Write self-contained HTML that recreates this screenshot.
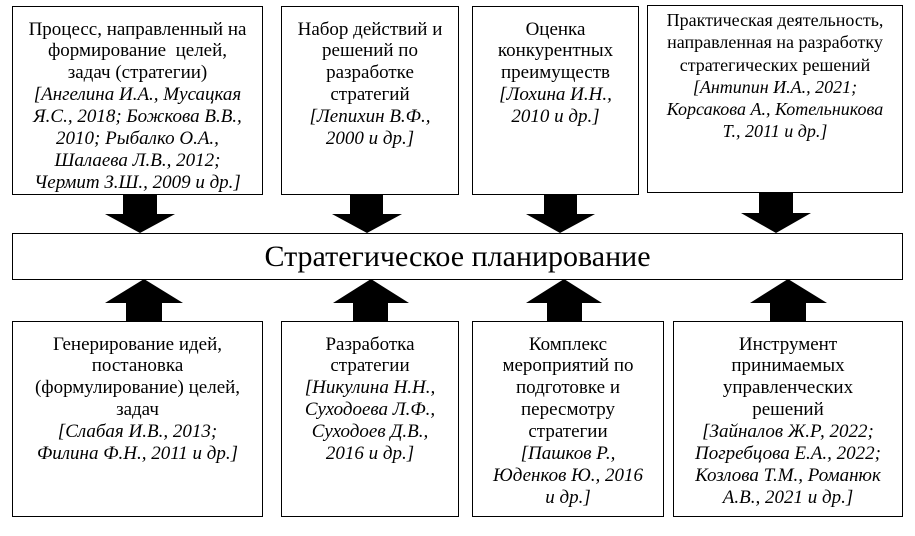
<!DOCTYPE html>
<html>
<head>
<meta charset="utf-8">
<style>
  html, body { margin:0; padding:0; background:#fff; }
  #c { position:relative; width:915px; height:536px; overflow:hidden; background:#fff;
       font-family:"Liberation Serif","Noto Serif CJK SC",serif; color:#000; }
  .b { position:absolute; box-sizing:border-box; border:1.5px solid #000; background:#fff;
       text-align:center; font-size:19px; line-height:21.9px; padding-top:11.5px; }
  .b div { white-space:nowrap; }
  .i { font-style:italic; }
  svg { position:absolute; left:0; top:0; }
</style>
</head>
<body>
<div id="c">
  <svg width="915" height="536" viewBox="0 0 915 536">
    <g fill="#000">
      <!-- top arrows (down) -->
      <polygon points="123,194 157,194 157,214 175,214 140,233 105,214 123,214"/>
      <polygon points="350,194 383,194 383,214 402,214 367,233 332,214 350,214"/>
      <polygon points="544,194 577,194 577,214 595,214 560,233 526,214 544,214"/>
      <polygon points="759,192 793,192 793,213 811,213 776,233 741,213 759,213"/>
      <!-- bottom arrows (up) -->
      <polygon points="126,322 162,322 162,303 183,303 144,279 105,303 126,303"/>
      <polygon points="353,322 388,322 388,303 409,303 371,279 333,303 353,303"/>
      <polygon points="547,322 582,322 582,303 602,303 564,279 526,303 547,303"/>
      <polygon points="770,322 806,322 806,303 827,303 788,279 750,303 770,303"/>
    </g>
  </svg>

  <div class="b" style="left:12px;top:6px;width:251px;height:189px;">
    <div>Процесс, направленный на</div>
    <div>формирование&nbsp; целей,</div>
    <div>задач (стратегии)</div>
    <div class="i">[Ангелина И.А., Мусацкая</div>
    <div class="i">Я.С., 2018; Божкова В.В.,</div>
    <div class="i">2010; Рыбалко О.А.,</div>
    <div class="i">Шалаева Л.В., 2012;</div>
    <div class="i">Чермит З.Ш., 2009 и др.]</div>
  </div>

  <div class="b" style="left:281px;top:6px;width:178px;height:189px;">
    <div>Набор действий и</div>
    <div>решений по</div>
    <div>разработке</div>
    <div>стратегий</div>
    <div class="i">[Лепихин В.Ф.,</div>
    <div class="i">2000 и др.]</div>
  </div>

  <div class="b" style="left:472px;top:6px;width:167px;height:189px;">
    <div>Оценка</div>
    <div>конкурентных</div>
    <div>преимуществ</div>
    <div class="i">[Лохина И.Н.,</div>
    <div class="i">2010 и др.]</div>
  </div>

  <div class="b" style="left:647px;top:5px;width:256px;height:188px;font-size:18px;line-height:22.3px;padding-top:3px;">
    <div>Практическая деятельность,</div>
    <div>направленная на разработку</div>
    <div>стратегических решений</div>
    <div class="i">[Антипин И.А., 2021;</div>
    <div class="i">Корсакова А., Котельникова</div>
    <div class="i">Т., 2011 и др.]</div>
  </div>

  <div class="b" style="left:12px;top:233px;width:891px;height:47px;font-size:30px;line-height:32px;padding-top:6.5px;">
    <div>Стратегическое планирование</div>
  </div>

  <div class="b" style="left:12px;top:321px;width:251px;height:196px;">
    <div>Генерирование идей,</div>
    <div>постановка</div>
    <div>(формулирование) целей,</div>
    <div>задач</div>
    <div class="i">[Слабая И.В., 2013;</div>
    <div class="i">Филина Ф.Н., 2011 и др.]</div>
  </div>

  <div class="b" style="left:281px;top:321px;width:178px;height:196px;">
    <div>Разработка</div>
    <div>стратегии</div>
    <div class="i">[Никулина Н.Н.,</div>
    <div class="i">Суходоева Л.Ф.,</div>
    <div class="i">Суходоев Д.В.,</div>
    <div class="i">2016 и др.]</div>
  </div>

  <div class="b" style="left:472px;top:321px;width:192px;height:196px;">
    <div>Комплекс</div>
    <div>мероприятий по</div>
    <div>подготовке и</div>
    <div>пересмотру</div>
    <div>стратегии</div>
    <div class="i">[Пашков Р.,</div>
    <div class="i">Юденков Ю., 2016</div>
    <div class="i">и др.]</div>
  </div>

  <div class="b" style="left:673px;top:321px;width:230px;height:196px;">
    <div>Инструмент</div>
    <div>принимаемых</div>
    <div>управленческих</div>
    <div>решений</div>
    <div class="i">[Зайналов Ж.Р, 2022;</div>
    <div class="i">Погребцова Е.А., 2022;</div>
    <div class="i">Козлова Т.М., Романюк</div>
    <div class="i">А.В., 2021 и др.]</div>
  </div>
</div>
</body>
</html>
